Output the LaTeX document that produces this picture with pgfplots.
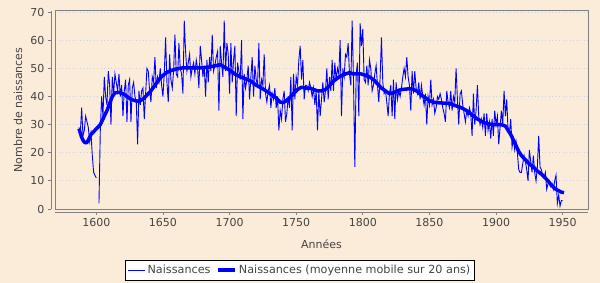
\documentclass[border=0pt]{standalone}
\usepackage{pgfplots}
\pgfplotsset{compat=1.18}
\usepackage{pgfplotstable}
\usepackage{fontspec}
\setmainfont{DejaVu Sans}
\definecolor{bg}{RGB}{250,236,216}
\definecolor{gridc}{RGB}{200,210,225}
\definecolor{axgray}{RGB}{128,128,128}
\definecolor{txt}{RGB}{68,68,68}

\pgfplotstableread[row sep=\\]{
year val\\
1587 29\\ 1588 27\\ 1589 36\\ 1590 26\\ 1591 28\\ 1592 33\\ 1593 31\\ 1594 29\\ 1595 24\\ 1596 27\\
1597 19\\ 1598 13\\ 1599 12\\ 1600 11\\ 1601 nan\\ 1602 2\\ 1603 28\\ 1604 40\\ 1605 33\\ 1606 47\\
1607 40\\ 1608 37\\ 1609 49\\ 1610 44\\ 1611 30\\ 1612 47\\ 1613 41\\ 1614 48\\ 1615 45\\ 1616 42\\
1617 48\\ 1618 40\\ 1619 44\\ 1620 33\\ 1621 42\\ 1622 46\\ 1623 31\\ 1624 44\\ 1625 46\\ 1626 31\\
1627 43\\ 1628 45\\ 1629 40\\ 1630 38\\ 1631 23\\ 1632 42\\ 1633 37\\ 1634 42\\ 1635 43\\ 1636 32\\
1637 41\\ 1638 50\\ 1639 49\\ 1640 42\\ 1641 38\\ 1642 47\\ 1643 45\\ 1644 54\\ 1645 43\\ 1646 47\\
1647 45\\ 1648 50\\ 1649 44\\ 1650 40\\ 1651 48\\ 1652 61\\ 1653 45\\ 1654 38\\ 1655 55\\ 1656 46\\
1657 43\\ 1658 49\\ 1659 62\\ 1660 48\\ 1661 47\\ 1662 59\\ 1663 50\\ 1664 48\\ 1665 41\\ 1666 67\\
1667 56\\ 1668 49\\ 1669 52\\ 1670 55\\ 1671 47\\ 1672 50\\ 1673 52\\ 1674 48\\ 1675 53\\ 1676 50\\
1677 43\\ 1678 58\\ 1679 53\\ 1680 47\\ 1681 51\\ 1682 40\\ 1683 53\\ 1684 45\\ 1685 54\\ 1686 49\\
1687 62\\ 1688 49\\ 1689 51\\ 1690 54\\ 1691 56\\ 1692 35\\ 1693 58\\ 1694 52\\ 1695 47\\ 1696 67\\
1697 49\\ 1698 59\\ 1699 55\\ 1700 41\\ 1701 59\\ 1702 45\\ 1703 53\\ 1704 58\\ 1705 33\\ 1706 52\\
1707 49\\ 1708 46\\ 1709 60\\ 1710 32\\ 1711 48\\ 1712 43\\ 1713 46\\ 1714 51\\ 1715 39\\ 1716 47\\
1717 54\\ 1718 40\\ 1719 51\\ 1720 46\\ 1721 44\\ 1722 59\\ 1723 39\\ 1724 46\\ 1725 44\\ 1726 55\\
1727 41\\ 1728 38\\ 1729 42\\ 1730 44\\ 1731 36\\ 1732 41\\ 1733 39\\ 1734 43\\ 1735 36\\ 1736 40\\
1737 28\\ 1738 35\\ 1739 32\\ 1740 39\\ 1741 42\\ 1742 31\\ 1743 34\\ 1744 40\\ 1745 36\\ 1746 47\\
1747 28\\ 1748 48\\ 1749 39\\ 1750 47\\ 1751 44\\ 1752 53\\ 1753 58\\ 1754 46\\ 1755 53\\ 1756 39\\
1757 44\\ 1758 44\\ 1759 42\\ 1760 45\\ 1761 43\\ 1762 40\\ 1763 43\\ 1764 37\\ 1765 42\\ 1766 28\\
1767 42\\ 1768 33\\ 1769 39\\ 1770 45\\ 1771 38\\ 1772 42\\ 1773 50\\ 1774 39\\ 1775 47\\ 1776 42\\
1777 53\\ 1778 42\\ 1779 52\\ 1780 46\\ 1781 50\\ 1782 48\\ 1783 60\\ 1784 33\\ 1785 50\\ 1786 47\\
1787 55\\ 1788 54\\ 1789 59\\ 1790 48\\ 1791 44\\ 1792 67\\ 1793 46\\ 1794 15\\ 1795 48\\ 1796 52\\
1797 33\\ 1798 66\\ 1799 58\\ 1800 64\\ 1801 46\\ 1802 45\\ 1803 51\\ 1804 44\\ 1805 53\\ 1806 50\\
1807 42\\ 1808 44\\ 1809 48\\ 1810 51\\ 1811 44\\ 1812 38\\ 1813 47\\ 1814 61\\ 1815 45\\ 1816 41\\
1817 42\\ 1818 38\\ 1819 33\\ 1820 41\\ 1821 44\\ 1822 33\\ 1823 46\\ 1824 32\\ 1825 45\\ 1826 39\\
1827 42\\ 1828 40\\ 1829 43\\ 1830 47\\ 1831 50\\ 1832 47\\ 1833 54\\ 1834 47\\ 1835 44\\ 1836 35\\
1837 49\\ 1838 41\\ 1839 49\\ 1840 43\\ 1841 41\\ 1842 45\\ 1843 39\\ 1844 44\\ 1845 40\\ 1846 37\\
1847 41\\ 1848 30\\ 1849 40\\ 1850 37\\ 1851 46\\ 1852 37\\ 1853 39\\ 1854 34\\ 1855 36\\ 1856 40\\
1857 39\\ 1858 41\\ 1859 39\\ 1860 36\\ 1861 34\\ 1862 31\\ 1863 42\\ 1864 38\\ 1865 36\\ 1866 42\\
1867 35\\ 1868 40\\ 1869 38\\ 1870 50\\ 1871 39\\ 1872 30\\ 1873 41\\ 1874 42\\ 1875 37\\ 1876 34\\
1877 31\\ 1878 35\\ 1879 33\\ 1880 36\\ 1881 34\\ 1882 26\\ 1883 41\\ 1884 30\\ 1885 35\\ 1886 44\\
1887 33\\ 1888 30\\ 1889 32\\ 1890 29\\ 1891 34\\ 1892 26\\ 1893 34\\ 1894 28\\ 1895 31\\ 1896 25\\
1897 32\\ 1898 26\\ 1899 35\\ 1900 30\\ 1901 33\\ 1902 23\\ 1903 29\\ 1904 35\\ 1905 30\\ 1906 42\\
1907 33\\ 1908 39\\ 1909 28\\ 1910 27\\ 1911 32\\ 1912 22\\ 1913 25\\ 1914 21\\ 1915 24\\ 1916 20\\
1917 14\\ 1918 13\\ 1919 13\\ 1920 16\\ 1921 19\\ 1922 17\\ 1923 14\\ 1924 10\\ 1925 21\\ 1926 17\\
1927 13\\ 1928 19\\ 1929 13\\ 1930 10\\ 1931 15\\ 1932 26\\ 1933 15\\ 1934 14\\ 1935 12\\ 1936 11\\
1937 13\\ 1938 7\\ 1939 9\\ 1940 10\\ 1941 8\\ 1942 9\\ 1943 7\\ 1944 10\\ 1945 12\\ 1946 2\\
1947 5\\ 1948 1\\ 1949 3\\ 1950 3\\
}\rawdata

\pgfplotstableread[row sep=\\]{
year val\\
1587 28.5\\ 1588 27\\ 1589 25.5\\ 1590 24.5\\ 1591 23.8\\ 1592 23.5\\ 1593 23.7\\ 1594 24.5\\
1595 25.5\\ 1596 26.5\\ 1597 27\\ 1598 27.5\\ 1600 28.5\\ 1603 30\\ 1606 33\\ 1608 35\\
1610 37.5\\ 1612 40\\ 1614 41.3\\ 1617 41.5\\ 1620 41\\ 1623 40\\ 1626 39\\ 1629 38.5\\
1632 38.3\\ 1635 39\\ 1638 40.5\\ 1641 42\\ 1644 44\\ 1647 46\\ 1650 47.5\\ 1653 48.6\\
1656 49.2\\ 1660 49.8\\ 1665 50.2\\ 1670 50.2\\ 1675 50.2\\ 1680 50.2\\ 1685 50.5\\ 1690 51\\
1693 51.3\\ 1696 50.5\\ 1700 49.4\\ 1704 48\\ 1708 47\\ 1712 46.3\\ 1716 45.5\\ 1720 44\\
1724 43\\ 1728 41.8\\ 1732 40.5\\ 1735 39.5\\ 1738 38\\ 1740 37.8\\ 1742 38.3\\ 1745 39.5\\
1748 41\\ 1751 42.5\\ 1754 43.3\\ 1757 43\\ 1760 43\\ 1763 42.5\\ 1766 42\\ 1769 42\\
1772 42.5\\ 1775 43.8\\ 1778 45.5\\ 1781 46.5\\ 1784 47.5\\ 1787 48\\ 1790 48.5\\ 1793 48\\
1796 48\\ 1799 48\\ 1802 47.5\\ 1805 47\\ 1808 46\\ 1811 44.5\\ 1814 43\\ 1817 42\\
1820 41\\ 1823 41.3\\ 1826 42\\ 1829 42.5\\ 1832 42.6\\ 1835 42.8\\ 1838 42.5\\ 1841 41.8\\
1844 40.5\\ 1847 39.5\\ 1850 38.5\\ 1853 38\\ 1856 37.8\\ 1859 37.7\\ 1862 37.6\\ 1865 37.5\\
1868 37\\ 1871 36.5\\ 1874 36\\ 1877 35.2\\ 1880 34.3\\ 1883 33\\ 1886 32\\ 1889 31.2\\
1892 30.5\\ 1895 30.2\\ 1898 30\\ 1901 30\\ 1904 30\\ 1907 29.5\\ 1909 28\\ 1911 26.5\\
1913 24.5\\ 1915 22.5\\ 1917 20.5\\ 1919 19\\ 1921 18\\ 1923 17\\ 1925 16\\ 1927 15.3\\
1929 14.5\\ 1931 13.5\\ 1933 12.8\\ 1935 12\\ 1937 11\\ 1939 10\\ 1941 8.8\\ 1943 7.8\\
1945 7\\ 1947 6.5\\ 1949 6\\ 1951 5.8\\
}\madata

\begin{document}
\begin{tikzpicture}
\fill[bg] (0,0) rectangle (600bp,283bp);
\begin{axis}[
  at={(55bp,74bp)}, anchor=south west,
  width=533bp, height=198bp, scale only axis,
  xmin=1569, xmax=1969, ymin=0, ymax=70.4,
  axis lines*=left,
  axis x line shift=3bp, axis y line shift=4bp,
  axis line style={axgray, line width=1bp},
  xtick={1600,1650,...,1950}, ytick={0,10,...,70},
  tick align=outside, major tick length=3bp,
  tick style={axgray, line width=0.8bp},
  ymajorgrids,
  grid style={gridc, dash pattern=on 1bp off 2.5bp, line width=0.8bp},
  ticklabel style={font=\fontsize{11bp}{13bp}\selectfont, text=txt},
  /pgf/number format/assume math mode=true,
  /pgf/number format/1000 sep={},
  xlabel={Années}, ylabel={Nombre de naissances},
  label style={font=\fontsize{11bp}{13bp}\selectfont, text=txt},
  xlabel style={at={(axis description cs:0.5,-0.1768)}, anchor=center},
  ylabel style={at={(axis description cs:-0.0694,0.5)}, anchor=center},
  legend columns=-1,
  legend cell align=left,
  legend style={at={(axis description cs:0.4597,-0.308)}, anchor=center,
    draw=black, fill=white, line width=0.8bp,
    font=\fontsize{11.2bp}{13bp}\selectfont, text=txt,
    inner xsep=2bp, inner ysep=3bp,
    /tikz/every even column/.append style={column sep=4bp}},
  clip mode=individual,
]
\addplot[blue, line width=0.9bp, no markers, unbounded coords=jump] table[x=year, y=val]{\rawdata};
\addlegendentry{Naissances}
\addplot[blue, line width=3.5bp, no markers, line join=round] table[x=year, y=val]{\madata};
\addlegendentry{Naissances (moyenne mobile sur 20 ans)}
\draw[axgray, line width=1bp] (rel axis cs:0,0) rectangle (rel axis cs:1,1);
\end{axis}
\end{tikzpicture}
\end{document}
